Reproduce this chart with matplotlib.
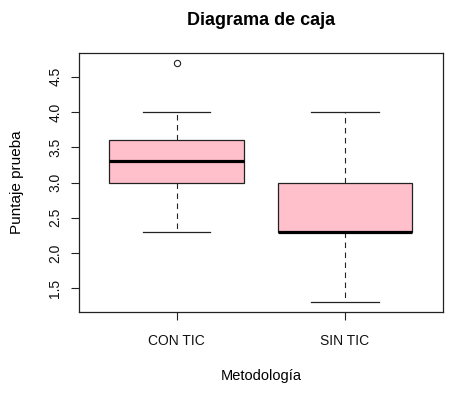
import matplotlib
matplotlib.use("Agg")
import matplotlib.pyplot as plt

plt.rcParams['font.family'] = ['Liberation Sans', 'DejaVu Sans']

categories = ["CON TIC", "SIN TIC"]
whislo = [2.3, 1.3]
q1 = [3.0, 2.3]
med = [3.3, 2.3]
q3 = [3.6, 3.0]
whishi = [4.0, 4.0]
fliers = [[4.7], []]
yticks = [1.5, 2.0, 2.5, 3.0, 3.5, 4.0, 4.5]

stats = []
for i, c in enumerate(categories):
    stats.append(dict(label=c, whislo=whislo[i], q1=q1[i], med=med[i],
                      q3=q3[i], whishi=whishi[i], fliers=fliers[i]))

fig = plt.figure(figsize=(4.66, 3.95), dpi=100)
ax = fig.add_axes([0.1695, 0.2101, 0.7805, 0.6557])

ax.bxp(stats, positions=[1, 2], widths=0.8, capwidths=0.4, patch_artist=True,
       boxprops=dict(facecolor='#FFC0CB', edgecolor='#222222', linewidth=0.9),
       medianprops=dict(color='black', linewidth=2.3, solid_capstyle='butt'),
       whiskerprops=dict(color='#222222', linewidth=0.8, linestyle=(0, (5, 4))),
       capprops=dict(color='#222222', linewidth=0.9),
       flierprops=dict(marker='o', markerfacecolor='none', markeredgecolor='#222222',
                       markersize=4.5, markeredgewidth=0.8))

ax.set_xlim(0.42, 2.58)
ax.set_ylim(1.164, 4.836)
ax.set_yticks(yticks)
ax.set_yticklabels([f"{v:.1f}" for v in yticks], rotation=90, va='center')
ax.set_xticks([1, 2])
ax.set_xticklabels(categories)
ax.tick_params(axis='both', direction='out', length=6, width=0.8, color='#222222',
               labelsize=10, labelcolor='#111111')
ax.tick_params(axis='y', pad=6)
ax.tick_params(axis='x', pad=9.5)
for s in ax.spines.values():
    s.set_linewidth(0.9)
    s.set_color('#222222')

ax.set_title("Diagrama de caja", fontsize=13, fontweight='bold', pad=20)
ax.set_xlabel("Metodología", fontsize=10.5, labelpad=15.5)
ax.set_ylabel("Puntaje prueba", fontsize=11, labelpad=17.5)

fig.savefig("out.png", dpi=100)
